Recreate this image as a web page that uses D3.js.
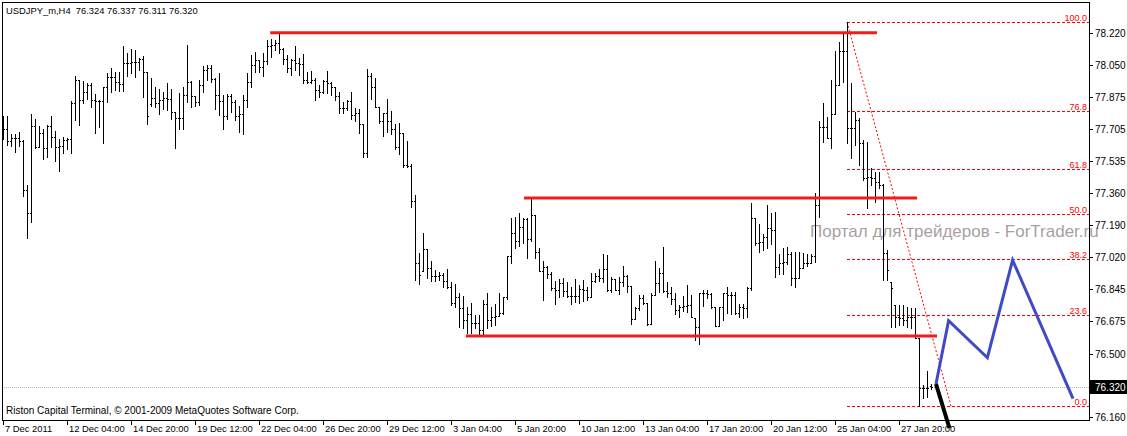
<!DOCTYPE html>
<html><head><meta charset="utf-8">
<script src="https://cdn.jsdelivr.net/npm/d3@7"></script>
<style>body{margin:0;background:#fff}text{font-family:"Liberation Sans",Arial,sans-serif}</style>
</head><body>
<script>
// ---- DATA ----
const symbolTitle = "USDJPY_m,H4  76.324 76.337 76.311 76.320";
const copyright = "Riston Capital Terminal, © 2001-2009 MetaQuotes Software Corp.";
const watermark = "Портал для трейдеров - ForTrader.ru";
const dateLabels = ["7 Dec 2011","12 Dec 04:00","14 Dec 20:00","19 Dec 12:00","22 Dec 04:00","26 Dec 20:00","29 Dec 12:00","3 Jan 04:00","5 Jan 20:00","10 Jan 12:00","13 Jan 04:00","17 Jan 20:00","20 Jan 12:00","25 Jan 04:00","27 Jan 20:00"];
const dateLabelBars = [0,16,32,48,64,80,96,112,128,144,160,176,192,208,224];
const priceTicks = [78.220,78.050,77.875,77.705,77.535,77.360,77.190,77.020,76.845,76.675,76.500,76.160];
const currentPrice = 76.320;

const O = [
77.726,77.705,77.641,77.657,77.657,77.641,77.378,77.254,77.721,77.608,
77.684,77.603,77.721,77.662,77.608,77.614,77.646,77.652,77.845,77.968,
77.861,77.903,77.941,77.861,77.856,77.856,77.930,77.984,77.984,77.957,
77.946,78.059,78.059,78.064,78.064,78.080,78.010,77.839,77.871,77.845,
77.861,77.871,77.866,77.796,77.764,77.764,77.887,77.957,77.882,77.850,
77.941,78.021,78.032,77.973,77.887,77.856,77.775,77.882,77.850,77.775,
77.786,77.861,77.957,78.048,78.075,78.037,78.070,78.150,78.156,78.166,
78.134,78.080,78.032,78.075,78.059,78.054,77.968,77.957,77.968,77.914,
77.903,77.963,77.952,77.930,77.882,77.818,77.818,77.856,77.780,77.791,
77.732,77.576,77.989,77.930,77.823,77.748,77.791,77.748,77.705,77.608,
77.684,77.512,77.506,77.319,76.986,76.943,77.061,76.959,76.916,76.916,
76.921,76.889,76.857,76.771,76.803,76.745,76.680,76.712,76.664,76.664,
76.627,76.766,76.680,76.696,76.702,76.718,76.803,77.024,77.147,77.104,
77.179,77.222,77.115,77.244,77.045,76.943,76.965,76.927,76.852,76.841,
76.879,76.836,76.809,76.809,76.809,76.846,76.841,76.803,76.889,76.916,
76.906,76.954,76.841,76.900,76.841,76.884,76.916,76.862,76.686,76.745,
76.798,76.771,76.659,76.814,76.879,76.932,76.836,76.825,76.793,76.734,
76.750,76.755,76.761,76.691,76.643,76.825,76.825,76.820,76.750,76.648,
76.750,76.825,76.814,76.814,76.718,76.750,76.745,76.852,77.228,77.093,
77.099,77.126,77.174,77.163,76.965,76.986,76.991,77.034,76.906,76.906,
76.959,76.986,76.986,77.024,77.297,77.716,77.716,77.657,77.786,77.941,
78.123,78.123,77.710,77.710,77.753,77.630,77.442,77.447,77.442,77.420,
77.404,77.040,76.884,76.761,76.696,76.691,76.680,76.696,76.696,76.584,
76.315,76.315,76.324];
const Hi = [
77.775,77.775,77.679,77.679,77.689,77.646,77.404,77.786,77.759,77.721,
77.705,77.726,77.775,77.695,77.652,77.662,77.657,77.856,77.989,77.968,
77.963,77.952,77.952,77.893,77.861,77.930,78.005,78.032,78.010,78.010,
78.150,78.113,78.134,78.129,78.086,78.097,78.010,77.979,77.930,77.920,
77.903,77.952,77.920,77.796,77.898,77.930,78.156,77.963,77.882,77.968,
78.043,78.048,78.048,77.979,78.005,77.887,77.893,77.893,77.861,77.829,
77.887,78.005,78.102,78.118,78.075,78.113,78.182,78.188,78.182,78.215,
78.140,78.102,78.080,78.150,78.086,78.107,78.010,78.016,77.979,77.941,
77.968,78.016,77.957,77.930,77.903,77.850,77.861,77.903,77.818,77.813,
77.732,78.027,78.005,77.979,77.823,77.791,77.866,77.802,77.732,77.737,
77.684,77.641,77.517,77.351,77.040,77.147,77.061,76.997,76.948,76.938,
76.932,76.954,76.884,76.873,76.825,76.809,76.750,76.771,76.707,76.707,
76.787,76.825,76.750,76.766,76.825,76.803,77.024,77.228,77.233,77.254,
77.228,77.228,77.329,77.244,77.066,76.997,76.970,76.938,76.889,76.900,
76.906,76.884,76.857,76.900,76.868,76.895,76.857,76.932,76.932,76.954,
77.034,77.029,76.911,76.900,76.911,76.970,76.921,76.862,76.750,76.814,
76.814,76.771,76.825,76.997,76.959,77.072,76.884,76.857,76.825,76.761,
76.809,76.868,76.814,76.691,76.825,76.841,76.841,76.825,76.750,76.750,
76.825,76.857,76.830,76.830,76.766,76.766,76.857,77.308,77.228,77.195,
77.142,77.297,77.254,77.260,77.034,77.066,77.072,77.045,77.045,77.045,
77.040,77.034,77.034,77.362,77.748,77.845,77.770,77.968,78.123,78.172,
78.220,78.279,77.952,77.796,77.764,77.646,77.635,77.496,77.474,77.474,
77.410,77.056,76.884,76.761,76.761,76.761,76.750,76.745,76.745,76.584,
76.332,76.407,76.337];
const Lo = [
77.652,77.619,77.614,77.581,77.614,77.346,77.120,77.206,77.603,77.608,
77.544,77.554,77.608,77.534,77.480,77.576,77.598,77.576,77.753,77.726,
77.845,77.866,77.823,77.684,77.716,77.630,77.850,77.903,77.914,77.909,
77.909,77.989,78.005,77.984,78.021,77.877,77.732,77.829,77.823,77.786,
77.813,77.807,77.759,77.603,77.705,77.705,77.850,77.823,77.829,77.834,
77.903,77.968,77.957,77.813,77.780,77.705,77.759,77.796,77.753,77.689,
77.679,77.823,77.930,78.010,78.010,77.989,78.054,78.091,78.129,78.113,
78.054,78.010,77.995,78.021,77.995,77.952,77.952,77.952,77.861,77.877,
77.898,77.898,77.887,77.861,77.791,77.791,77.807,77.759,77.748,77.684,
77.554,77.554,77.866,77.823,77.737,77.668,77.689,77.679,77.598,77.571,
77.501,77.501,77.286,76.895,76.873,76.943,76.906,76.889,76.889,76.895,
76.857,76.852,76.761,76.750,76.643,76.637,76.611,76.611,76.637,76.605,
76.605,76.637,76.648,76.653,76.702,76.712,76.793,76.986,77.066,77.077,
77.093,77.013,77.104,77.013,76.943,76.787,76.906,76.841,76.766,76.803,
76.809,76.803,76.766,76.777,76.771,76.782,76.787,76.803,76.884,76.889,
76.884,76.836,76.830,76.841,76.820,76.862,76.830,76.659,76.686,76.734,
76.766,76.653,76.659,76.814,76.830,76.830,76.803,76.766,76.712,76.696,
76.728,76.723,76.696,76.573,76.552,76.755,76.798,76.745,76.648,76.648,
76.680,76.718,76.712,76.712,76.696,76.691,76.696,76.841,77.083,77.045,
77.056,77.066,77.088,76.911,76.927,76.927,76.981,76.868,76.857,76.906,
76.959,76.970,76.986,76.991,77.233,77.635,77.657,77.603,77.786,77.941,
77.957,77.630,77.549,77.619,77.512,77.431,77.281,77.404,77.313,77.388,
76.895,76.895,76.643,76.643,76.653,76.653,76.643,76.637,76.584,76.219,
76.262,76.267,76.311];
const Cl = [
77.705,77.641,77.657,77.657,77.641,77.378,77.254,77.721,77.608,77.684,
77.603,77.721,77.662,77.608,77.614,77.646,77.652,77.845,77.968,77.861,
77.903,77.941,77.861,77.856,77.856,77.930,77.984,77.984,77.957,77.946,
78.059,78.059,78.064,78.064,78.080,78.010,77.775,77.871,77.845,77.861,
77.871,77.866,77.796,77.764,77.764,77.887,77.957,77.882,77.850,77.941,
78.021,78.032,77.973,77.887,77.856,77.775,77.882,77.850,77.775,77.786,
77.861,77.957,78.048,78.075,78.037,78.070,78.150,78.156,78.166,78.134,
78.080,78.032,78.075,78.059,78.054,77.968,77.957,77.968,77.914,77.903,
77.963,77.952,77.930,77.882,77.818,77.818,77.856,77.780,77.791,77.732,
77.576,77.989,77.930,77.823,77.748,77.791,77.748,77.705,77.608,77.684,
77.512,77.506,77.319,76.986,76.921,77.061,76.959,76.916,76.916,76.921,
76.889,76.857,76.771,76.803,76.745,76.680,76.712,76.664,76.664,76.627,
76.766,76.680,76.696,76.702,76.718,76.803,77.024,77.147,77.104,77.179,
77.222,77.115,77.244,77.045,76.943,76.965,76.927,76.852,76.841,76.879,
76.836,76.809,76.809,76.809,76.846,76.841,76.803,76.889,76.916,76.906,
76.954,76.841,76.900,76.841,76.884,76.916,76.862,76.686,76.745,76.798,
76.771,76.659,76.814,76.879,76.932,76.836,76.825,76.793,76.734,76.750,
76.755,76.761,76.696,76.643,76.825,76.825,76.820,76.750,76.648,76.750,
76.825,76.814,76.814,76.718,76.750,76.745,76.852,77.228,77.093,77.099,
77.126,77.174,77.163,76.965,76.986,76.991,77.034,76.906,76.906,76.959,
76.986,76.986,77.024,77.297,77.716,77.716,77.657,77.786,77.941,78.123,
78.123,77.710,77.710,77.753,77.630,77.442,77.447,77.442,77.420,77.404,
77.040,76.948,76.852,76.696,76.691,76.680,76.696,76.696,76.584,76.315,
76.315,76.315,76.320];

// horizontal support / resistance lines: price, from bar, to bar
const srPrice = [78.222, 77.335, 76.594];
const srFrom  = [66.8, 130.25, 115.75];
const srTo    = [218.5, 228.5, 233.5];

// Fibonacci retracement
const fibHigh = 78.279, fibLow = 76.219, fibBar1 = 211, fibBar2 = 237;
const fibLevels = [100.0, 76.8, 61.8, 50.0, 38.2, 23.6, 0.0];

// projected path (blue) and black segment
const projBars = [233.25, 236.4, 246.1, 252.4, 267.5];
const projPrices = [76.337, 76.677, 76.478, 77.002, 76.259];
const blackBars = [233.25, 236.6];
const blackPrices = [76.337, 76.101];

// ---- DRAW ----
const W = 1127, HH = 436;
const L0 = 2, R0 = 1089, T0 = 2, B0 = 420;
const svg = d3.select("body").append("svg").attr("width", W).attr("height", HH)
  .style("background", "#fff");
const x = d3.scaleLinear().domain([0, 271.5]).range([3, 1089]);
const y = d3.scaleLinear().domain([76.16, 78.22]).range([417, 33]);

// watermark
svg.append("text").attr("x", 810).attr("y", 237).attr("font-size", 17)
  .attr("fill", "#a89f9f").text(watermark);

// current price grey line
const yc = Math.round(y(currentPrice)) + 0.5;
svg.append("line").attr("x1", L0).attr("x2", R0).attr("y1", yc).attr("y2", yc)
  .attr("stroke", "#b4b4b4").attr("stroke-dasharray", "1,1");

// fib lines
const fibY = lv => y(fibLow + (fibHigh - fibLow) * lv / 100);
const fg = svg.append("g");
fibLevels.forEach(lv => {
  const yy = Math.round(fibY(lv)) + 0.5;
  fg.append("line").attr("x1", x(fibBar1)).attr("x2", R0).attr("y1", yy).attr("y2", yy)
    .attr("stroke", "#ff0000").attr("stroke-dasharray", "3,2");
  fg.append("text").attr("x", 1087).attr("y", yy - 2).attr("text-anchor", "end")
    .attr("font-size", 9).attr("fill", "#ff0000").text(lv.toFixed(1));
});
fg.append("line").attr("x1", x(fibBar1)).attr("y1", y(fibHigh)).attr("x2", x(fibBar2)).attr("y2", y(fibLow))
  .attr("stroke", "#ff0000").attr("stroke-dasharray", "2,2");

// bars
const bg = svg.append("g").attr("shape-rendering", "crispEdges").attr("fill", "#000");
Cl.forEach((c, i) => {
  const X = Math.round(x(i));
  const yh = Math.round(y(Hi[i])), yl = Math.round(y(Lo[i]));
  bg.append("rect").attr("x", X).attr("y", yh).attr("width", 1).attr("height", Math.max(1, yl - yh + 1));
  bg.append("rect").attr("x", X - 1).attr("y", Math.round(y(O[i]))).attr("width", 1).attr("height", 1);
  bg.append("rect").attr("x", X + 1).attr("y", Math.round(y(c))).attr("width", 1).attr("height", 1);
});

// S/R lines
srPrice.forEach((p, k) => {
  svg.append("line").attr("x1", x(srFrom[k])).attr("x2", x(srTo[k]))
    .attr("y1", y(p)).attr("y2", y(p)).attr("stroke", "#f01c1c").attr("stroke-width", 3);
});

// frame
svg.append("rect").attr("x", L0 + 0.5).attr("y", T0 + 0.5).attr("width", R0 - L0).attr("height", B0 - T0)
  .attr("fill", "none").attr("stroke", "#000");

// price axis
const ag = svg.append("g").attr("font-size", 10).attr("fill", "#000");
priceTicks.forEach(p => {
  const yy = Math.round(y(p)) + 0.5;
  ag.append("line").attr("x1", R0).attr("x2", R0 + 4).attr("y1", yy).attr("y2", yy).attr("stroke", "#000");
  ag.append("text").attr("x", 1095).attr("y", yy + 3.5).text(p.toFixed(3));
});
svg.append("rect").attr("x", 1090).attr("y", yc - 7.5).attr("width", 37).attr("height", 14).attr("fill", "#000");
svg.append("text").attr("x", 1095).attr("y", yc + 3.5).attr("font-size", 10).attr("fill", "#fff").text(currentPrice.toFixed(3));

// date axis
dateLabels.forEach((lab, k) => {
  const X = Math.round(x(dateLabelBars[k])) + 0.5;
  svg.append("line").attr("x1", X).attr("x2", X).attr("y1", B0).attr("y2", B0 + 5).attr("stroke", "#000");
  svg.append("text").attr("x", X + 1.5).attr("y", 432).attr("font-size", 9.4).text(lab);
});

// titles
svg.append("text").attr("x", 6).attr("y", 14).attr("font-size", 9.4).style("white-space", "pre").text(symbolTitle);
svg.append("text").attr("x", 6).attr("y", 414).attr("font-size", 10).text(copyright);

// projection lines
const ln = d3.line().x(d => x(d[0])).y(d => y(d[1]));
svg.append("path").attr("d", ln(projBars.map((b, i) => [b, projPrices[i]])))
  .attr("fill", "none").attr("stroke", "#3f4ac6").attr("stroke-width", 3);
svg.append("path").attr("d", ln(blackBars.map((b, i) => [b, blackPrices[i]])))
  .attr("fill", "none").attr("stroke", "#000").attr("stroke-width", 4);
</script>
</body></html>
